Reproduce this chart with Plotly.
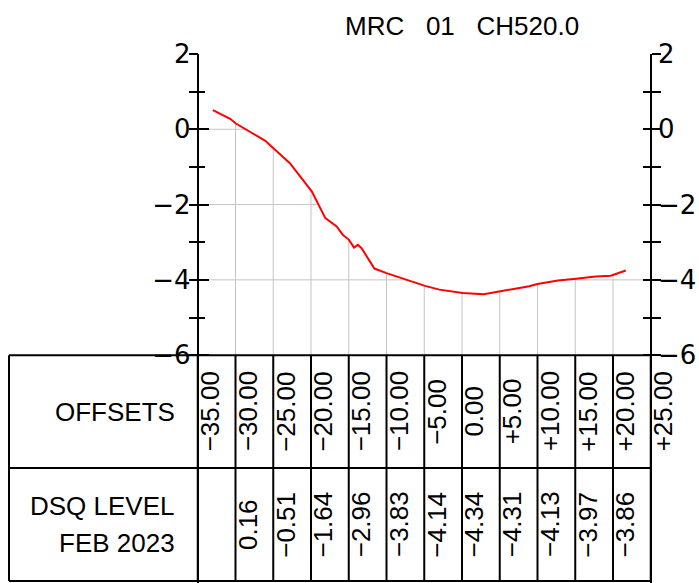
import plotly.graph_objects as go

# ---------------- data ----------------
title_text = "MRC\u00a0\u00a0\u00a001\u00a0\u00a0\u00a0CH520.0"

profile_x = [-33.0, -30.7, -30.0, -26.1, -22.8, -19.9, -18.1, -16.6, -15.8, -15.0,
             -14.3, -13.8, -13.3, -11.6, -10.0, -8.7, -6.9, -4.9, -3.0, 0.1,
             2.9, 4.9, 6.7, 8.9, 10.0, 12.7, 15.1, 17.7, 19.7, 20.8, 21.7]
profile_y = [0.51, 0.28, 0.16, -0.30, -0.90, -1.65, -2.36, -2.58, -2.80, -2.93,
             -3.14, -3.07, -3.16, -3.70, -3.82, -3.91, -4.02, -4.16, -4.26, -4.35,
             -4.38, -4.31, -4.26, -4.17, -4.11, -4.02, -3.97, -3.91, -3.89, -3.82, -3.75]

offsets = [-35, -30, -25, -20, -15, -10, -5, 0, 5, 10, 15, 20, 25]
level_offsets = [-30, -25, -20, -15, -10, -5, 0, 5, 10, 15, 20]
levels = [0.16, -0.51, -1.64, -2.96, -3.83, -4.14, -4.34, -4.31, -4.13, -3.97, -3.86]

y_major = [2, 0, -2, -4, -6]
y_minor = [1, -1, -3, -5]
grid_levels = [0, -2, -4]

row_labels = ["OFFSETS"]
level_labels = ["DSQ LEVEL", "FEB 2023"]

# ---------------- layout constants ----------------
FONT = "Liberation Sans, Arial, sans-serif"
TICK_FONT = "DejaVu Sans, Liberation Sans, sans-serif"
W, H = 699, 583
PX_X = 7.55              # pixels per metre (horizontal)
PX_Y = 37.64             # pixels per metre (vertical)
X_MIN = -60 - 9 / PX_X
X_MAX = X_MIN + W / PX_X
Y_MIN = -12 - 2 / PX_Y
Y_MAX = 2
Y_DOMAIN_TOP = (H - 54) / H
X_LEFT, X_RIGHT = offsets[0], offsets[-1]
TABLE_LEFT = -60
Y_TABLE_TOP, Y_TABLE_MID, Y_TABLE_BOT = -6, -9, -12
GRID_COLOR = "#c4c4c4"


def fmt_offset(v):
    if v == 0:
        return "0.00"
    s = f"{v:+.2f}"
    return s.replace("-", "\u2212")


def fmt_level(v):
    return f"{v:.2f}".replace("-", "\u2212")


def crossings(L):
    xs = []
    for i in range(len(profile_x) - 1):
        a = profile_y[i] - L
        b = profile_y[i + 1] - L
        if a * b < 0:
            xs.append(profile_x[i] + (profile_x[i + 1] - profile_x[i]) * a / (a - b))
    return xs


fig = go.Figure()
fig.add_trace(go.Scatter(x=profile_x, y=profile_y, mode="lines",
                         line=dict(color="#ff0000", width=2),
                         showlegend=False, hoverinfo="skip"))
for ax in ["y2", "y3", "y4", "y5", "y6"]:
    fig.add_trace(go.Scatter(x=[None], y=[None], yaxis=ax, mode="lines",
                             showlegend=False, hoverinfo="skip"))

shapes = []
# horizontal gridlines (only below ground)
for L in grid_levels:
    bounds = [X_LEFT] + crossings(L) + [X_RIGHT]
    for i in range(0, len(bounds) - 1, 2):
        shapes.append(dict(type="line", xref="x", yref="y", x0=bounds[i], x1=bounds[i + 1],
                           y0=L, y1=L, line=dict(color=GRID_COLOR, width=1), layer="below"))
# vertical gridlines from ground down to datum
for xo, lv in zip(level_offsets, levels):
    shapes.append(dict(type="line", xref="x", yref="y", x0=xo, x1=xo, y0=lv, y1=Y_TABLE_TOP,
                       line=dict(color=GRID_COLOR, width=1), layer="below"))
# table
for yy in [Y_TABLE_TOP, Y_TABLE_MID, Y_TABLE_BOT]:
    shapes.append(dict(type="line", xref="x", yref="y", x0=TABLE_LEFT, x1=X_RIGHT, y0=yy, y1=yy,
                       line=dict(color="black", width=2)))
for xx in [TABLE_LEFT] + offsets:
    shapes.append(dict(type="line", xref="x", yref="y", x0=xx, x1=xx, y0=Y_TABLE_TOP, y1=Y_TABLE_BOT,
                       line=dict(color="black", width=2)))

annotations = []
annotations.append(dict(text=title_text, xref="x", yref="paper", x=0, y=(H - 26) / H,
                        xanchor="center", yanchor="middle", showarrow=False,
                        font=dict(family=FONT, size=26, color="black")))
annotations.append(dict(text=row_labels[0], xref="x", yref="y", x=X_LEFT, xshift=-21,
                        y=(Y_TABLE_TOP + Y_TABLE_MID) / 2, xanchor="right", yanchor="middle",
                        showarrow=False, font=dict(family=FONT, size=26, color="black")))
for i, t in enumerate(level_labels):
    annotations.append(dict(text=t, xref="x", yref="y", x=X_LEFT, xshift=-21,
                            y=-10 - i, xanchor="right", yanchor="middle",
                            showarrow=False, font=dict(family=FONT, size=26, color="black")))
for xo in offsets:
    annotations.append(dict(text=fmt_offset(xo), xref="x", yref="y", x=xo, xshift=12,
                            y=(Y_TABLE_TOP + Y_TABLE_MID) / 2, textangle=-90,
                            xanchor="center", yanchor="middle", showarrow=False,
                            font=dict(family=FONT, size=26, color="black")))
for xo, lv in zip(level_offsets, levels):
    annotations.append(dict(text=fmt_level(lv), xref="x", yref="y", x=xo, xshift=12,
                            y=(Y_TABLE_MID + Y_TABLE_BOT) / 2, textangle=-90,
                            xanchor="center", yanchor="middle", showarrow=False,
                            font=dict(family=FONT, size=26, color="black")))

pos_left = (X_LEFT - X_MIN) / (X_MAX - X_MIN)
pos_right = (X_RIGHT - X_MIN) / (X_MAX - X_MIN)


def yax(position, side, ticks, major_len, minor_len, labels, line, overlay):
    d = dict(range=[Y_MIN, Y_MAX], domain=[0, Y_DOMAIN_TOP], anchor="free", position=position,
             side=side, showline=line, linecolor="black", linewidth=2, automargin=False,
             ticks=ticks, ticklen=major_len, tickwidth=2, tickcolor="black",
             tickmode="array", tickvals=y_major, showticklabels=labels,
             tickfont=dict(family=TICK_FONT, size=26, color="black"),
             showgrid=False, zeroline=False, fixedrange=True,
             minor=dict(tickmode="array", tickvals=y_minor, ticks=ticks, ticklen=minor_len,
                        tickwidth=2, tickcolor="black", showgrid=False))
    if overlay:
        d["overlaying"] = "y"
    return d


fig.update_layout(
    width=W, height=H,
    margin=dict(l=0, r=0, t=0, b=0, pad=0, autoexpand=False),
    paper_bgcolor="white", plot_bgcolor="white",
    showlegend=False,
    xaxis=dict(range=[X_MIN, X_MAX], visible=False, domain=[0, 1], fixedrange=True,
               automargin=False),
    # left side: labelled axis + outward ticks + inward ticks
    yaxis=yax(pos_left, "left", "outside", 1, 1, True, True, False),
    yaxis3=yax(pos_left, "left", "outside", 9, 9, False, False, True),
    yaxis5=yax(pos_left, "left", "inside", 10, 6, False, False, True),
    # right side
    yaxis2=yax(pos_right, "right", "outside", 1, 1, True, True, True),
    yaxis4=yax(pos_right, "right", "outside", 9, 9, False, False, True),
    yaxis6=yax(pos_right, "right", "inside", 8, 8, False, False, True),
    shapes=shapes,
    annotations=annotations,
)

fig.write_html(
    "out.html",
    config={"displayModeBar": False, "staticPlot": True},
    post_script="document.body.style.margin='0';document.body.style.overflow='hidden';",
)
